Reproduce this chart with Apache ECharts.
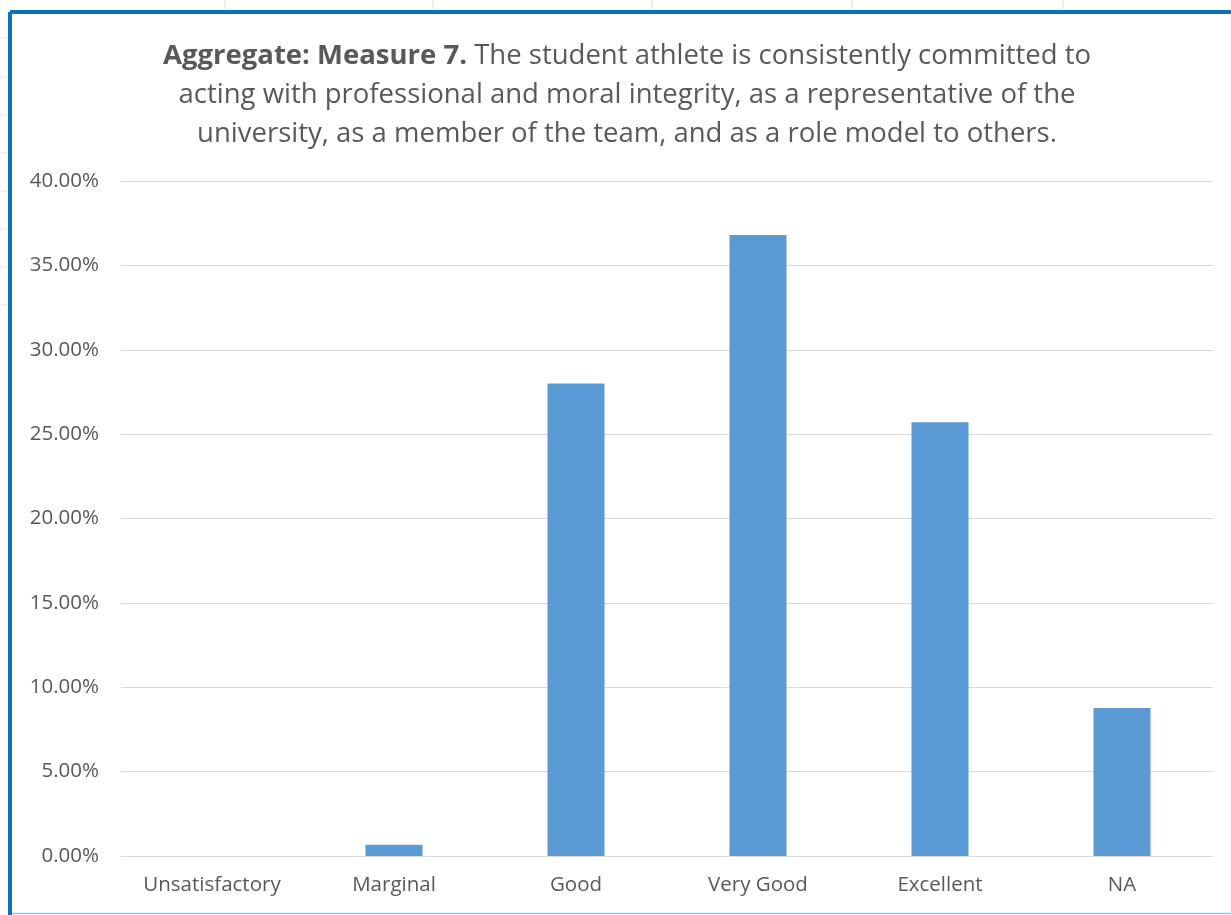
<!DOCTYPE html>
<html>
<head>
<meta charset="utf-8">
<script src="https://cdn.jsdelivr.net/npm/echarts@6/dist/echarts.min.js"></script>
<style>
  html, body { margin: 0; padding: 0; background: #ffffff; }
  #chart { width: 1231px; height: 915px; }
</style>
</head>
<body>
<div id="chart"></div>
<script>
// Rating categories and share of responses (percent)
const categories = ['Unsatisfactory', 'Marginal', 'Good', 'Very Good', 'Excellent', 'NA'];
const shares = [0, 0.66, 28.0, 36.8, 25.7, 8.77];
const yTicks = [0, 5, 10, 15, 20, 25, 30, 35, 40];

const titleLines = [
  '{b|Aggregate: Measure 7.}{n| The student athlete is consistently committed to}',
  '{n|acting with professional and moral integrity, as a representative of the}',
  '{n|university, as a member of the team, and as a role model to others.}'
];

const font = '"Open Sans", "Noto Sans", sans-serif';
const textGrey = '#595959';

// Worksheet cell lines peeking around the chart frame
const cellLines = [];
[225, 433, 652, 852, 1063].forEach(x => {
  cellLines.push({ type: 'line', shape: { x1: x, y1: 0, x2: x, y2: 9 }, style: { stroke: '#d9d9d9', lineWidth: 1 } });
});
[38, 77, 115, 153, 191, 229, 267, 305].forEach(y => {
  cellLines.push({ type: 'line', shape: { x1: 0, y1: y, x2: 7, y2: y }, style: { stroke: '#e3e3e3', lineWidth: 1 } });
});

const chart = echarts.init(document.getElementById('chart'));
chart.setOption({
  backgroundColor: '#ffffff',
  animation: false,
  title: {
    text: titleLines.join('\n'),
    left: 622,
    top: 32,
    textAlign: 'center',
    textStyle: {
      fontWeight: 'normal',
      rich: {
        b: { fontFamily: font, fontSize: 27.5, fontWeight: 'bold', color: textGrey, lineHeight: 39 },
        n: { fontFamily: font, fontSize: 27.5, fontWeight: 'normal', color: textGrey, lineHeight: 39 }
      }
    }
  },
  grid: { left: 121, right: 18, top: 181, bottom: 59 },
  xAxis: {
    type: 'category',
    data: categories,
    axisLine: { show: true, lineStyle: { color: '#d9d9d9', width: 1 } },
    axisTick: { show: false },
    axisLabel: { color: textGrey, fontFamily: font, fontSize: 20.5, margin: 19, interval: 0 }
  },
  yAxis: {
    type: 'value',
    min: yTicks[0],
    max: yTicks[yTicks.length - 1],
    interval: yTicks[1] - yTicks[0],
    axisLine: { show: false },
    axisTick: { show: false },
    splitLine: { lineStyle: { color: '#d9d9d9', width: 1 } },
    axisLabel: {
      color: textGrey, fontFamily: font, fontSize: 20.5, margin: 22,
      formatter: v => v.toFixed(2) + '%'
    }
  },
  series: [{
    type: 'bar',
    data: shares,
    barWidth: 57,
    itemStyle: { color: '#5b9bd5' }
  }],
  graphic: [
    ...cellLines,
    // selected chart frame
    { type: 'line', shape: { x1: 10, y1: 12, x2: 1231, y2: 12 }, style: { stroke: '#0b6fc4', lineWidth: 4 } },
    { type: 'line', shape: { x1: 10, y1: 12, x2: 10, y2: 915 }, style: { stroke: '#0b6fc4', lineWidth: 4 } },
    { type: 'line', shape: { x1: 12, y1: 913.5, x2: 1231, y2: 913.5 }, style: { stroke: '#8fc3ec', lineWidth: 1.5 } }
  ]
});
</script>
</body>
</html>
